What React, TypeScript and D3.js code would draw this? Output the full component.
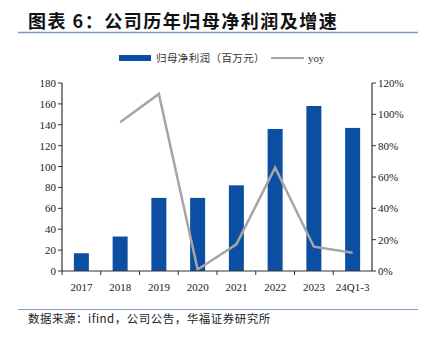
import React from "react";
import * as d3 from "d3";

const categories = ["2017", "2018", "2019", "2020", "2021", "2022", "2023", "24Q1-3"];
const profit = [17, 33, 70, 70, 82, 136, 158, 137];
const yoy: (number | null)[] = [null, 95, 113, 1, 17, 66, 15.5, 11.7];
const leftTicks = [0, 20, 40, 60, 80, 100, 120, 140, 160, 180];
const rightTicks = [0, 20, 40, 60, 80, 100, 120];

const W = 424, H = 342;
const m = { left: 62, right: 372, top: 83, bottom: 271 };
const serif = "'Liberation Serif', 'Times New Roman', serif";
const cjk = "'Noto Sans CJK SC', sans-serif";

export default function App() {
  const xb = d3.scaleBand<string>().domain(categories).range([m.left, m.right]);
  const yL = d3.scaleLinear().domain([0, 180]).range([m.bottom, m.top]);
  const yR = d3.scaleLinear().domain([0, 120]).range([m.bottom, m.top]);
  const pts = categories
    .map((c, i) => ({ c, v: yoy[i] }))
    .filter((d) => d.v !== null) as { c: string; v: number }[];
  const line = d3
    .line<{ c: string; v: number }>()
    .x((d) => (xb(d.c) as number) + xb.bandwidth() / 2)
    .y((d) => yR(d.v));
  const blue = "#0b4ea2";
  const gray = "#a6a6a6";
  const axisC = "#333";
  return (
    <svg width={W} height={H} style={{ position: "absolute", left: 0, top: 0, background: "#fff" }}>
      <text x={28} y={28} fontFamily={cjk} fontWeight={700} fontSize={18} letterSpacing={1.5} fill="#111">
        图表 6：公司历年归母净利润及增速
      </text>
      <line x1={18} x2={418} y1={32.5} y2={32.5} stroke="#7f9cc8" strokeWidth={1.5} />
      {/* legend */}
      <rect x={119} y={55} width={32} height={6} fill={blue} />
      <text x={156} y={62} fontFamily={cjk} fontSize={10.5} letterSpacing={0.4} fill="#333">
        归母净利润（百万元）
      </text>
      <line x1={271} x2={304} y1={58} y2={58} stroke={gray} strokeWidth={2} />
      <text x={308} y={62} fontFamily={serif} fontSize={11} fill="#333">
        yoy
      </text>
      {/* bars */}
      {categories.map((c, i) => (
        <rect key={c} x={(xb(c) as number) + xb.bandwidth() / 2 - 7.5} width={15} y={yL(profit[i])} height={m.bottom - yL(profit[i])} fill={blue} />
      ))}
      {/* line */}
      <path d={line(pts) || ""} fill="none" stroke={gray} strokeWidth={2.5} />
      {/* left axis */}
      <line x1={m.left} x2={m.left} y1={m.top} y2={m.bottom} stroke={axisC} strokeWidth={1.2} />
      {leftTicks.map((t) => (
        <g key={t}>
          <line x1={m.left - 4} x2={m.left} y1={yL(t)} y2={yL(t)} stroke={axisC} />
          <text x={m.left - 6} y={yL(t) + 4} textAnchor="end" fontFamily={serif} fontSize={11} fill="#222">
            {t}
          </text>
        </g>
      ))}
      {/* right axis */}
      <line x1={m.right} x2={m.right} y1={m.top} y2={m.bottom} stroke={axisC} strokeWidth={1.2} />
      {rightTicks.map((t) => (
        <g key={t}>
          <line x1={m.right} x2={m.right + 4} y1={yR(t)} y2={yR(t)} stroke={axisC} />
          <text x={m.right + 6} y={yR(t) + 4} textAnchor="start" fontFamily={serif} fontSize={11} fill="#222">
            {t}%
          </text>
        </g>
      ))}
      {/* x axis */}
      <line x1={m.left} x2={m.right} y1={m.bottom} y2={m.bottom} stroke={axisC} strokeWidth={1.2} />
      {categories.map((c) => (
        <g key={c}>
          <line x1={xb(c) as number} x2={xb(c) as number} y1={m.bottom} y2={m.bottom + 4} stroke={axisC} />
          <text x={(xb(c) as number) + xb.bandwidth() / 2} y={291} textAnchor="middle" fontFamily={serif} fontSize={11} fill="#222">
            {c}
          </text>
        </g>
      ))}
      <line x1={18} x2={418} y1={309.5} y2={309.5} stroke="#7f9cc8" strokeWidth={1.2} />
      <text x={28} y={323} fontFamily={cjk} fontSize={11.5} letterSpacing={0.5} fill="#222">
        数据来源：ifind，公司公告，华福证券研究所
      </text>
    </svg>
  );
}
